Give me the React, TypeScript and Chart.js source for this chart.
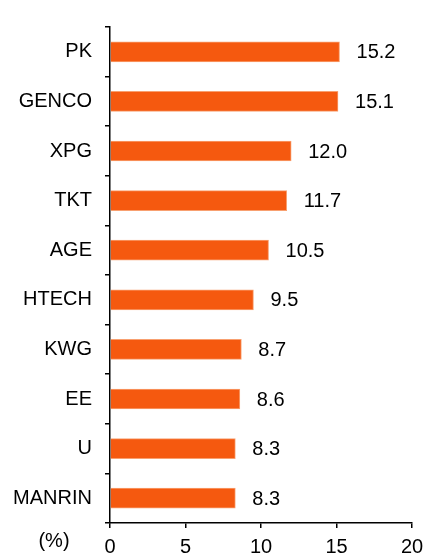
import React, { useEffect, useRef } from "react";
import { Chart, registerables } from "chart.js";

Chart.register(...registerables);

const categories = ["PK", "GENCO", "XPG", "TKT", "AGE", "HTECH", "KWG", "EE", "U", "MANRIN"];
const values = [15.2, 15.1, 12.0, 11.7, 10.5, 9.5, 8.7, 8.6, 8.3, 8.3];
const unitLabel = "(%)";

const FONT = "'Liberation Sans', Arial, sans-serif";
const FS = 20;

const valueLabelPlugin = {
  id: "valueLabels",
  afterDatasetsDraw(chart: any) {
    const ctx = chart.ctx;
    const meta = chart.getDatasetMeta(0);
    ctx.save();
    ctx.font = `${FS}px ${FONT}`;
    ctx.fillStyle = "#000";
    ctx.textAlign = "left";
    ctx.textBaseline = "middle";
    meta.data.forEach((bar: any, i: number) => {
      ctx.fillText(values[i].toFixed(1), bar.x + 17, bar.y + 1);
    });
    ctx.restore();
  },
  afterDraw(chart: any) {
    const ctx = chart.ctx;
    const xs = chart.scales.x;
    ctx.save();
    ctx.font = `${FS}px ${FONT}`;
    ctx.fillStyle = "#000";
    ctx.textAlign = "center";
    ctx.textBaseline = "middle";
    ctx.fillText(unitLabel, 54, xs.top + 18);
    ctx.restore();
  },
};

export default function App() {
  const ref = useRef<HTMLCanvasElement>(null);
  useEffect(() => {
    if (!ref.current) return;
    const chart = new Chart(ref.current, {
      type: "bar",
      data: {
        labels: categories,
        datasets: [
          {
            data: values,
            backgroundColor: "#F5590F",
            borderColor: "#F8A070",
            borderWidth: 1,
            barThickness: 20,
          },
        ],
      },
      options: {
        indexAxis: "y",
        animation: false,
        responsive: false,
        maintainAspectRatio: false,
        layout: { padding: { top: 27, right: 14, bottom: 0, left: 0 } },
        plugins: { legend: { display: false }, tooltip: { enabled: false } },
        scales: {
          x: {
            min: 0,
            max: 20,
            ticks: { stepSize: 5, color: "#000", font: { size: FS, family: FONT }, padding: 7 },
            grid: { drawOnChartArea: false, tickLength: 5, color: "#000", lineWidth: 1.5 },
            border: { color: "#000", width: 1.5 },
            afterFit: (s: any) => {
              s.height = 30;
              s.paddingLeft = 0;
              s.paddingRight = 0;
            },
          },
          y: {
            ticks: { color: "#000", font: { size: FS, family: FONT }, padding: 13 },
            grid: { drawOnChartArea: false, tickLength: 5, color: "#000", lineWidth: 1.5, offset: true },
            border: { color: "#000", width: 1.5 },
            afterFit: (s: any) => {
              s.width = 110;
              s.paddingTop = 0;
              s.paddingBottom = 0;
            },
          },
        },
      },
      plugins: [valueLabelPlugin],
    } as any);
    return () => chart.destroy();
  }, []);
  return (
    <div style={{ position: "fixed", left: 0, top: 0, width: 426, height: 553, background: "#fff" }}>
      <canvas ref={ref} width={426} height={553} style={{ width: 426, height: 553 }} />
    </div>
  );
}
